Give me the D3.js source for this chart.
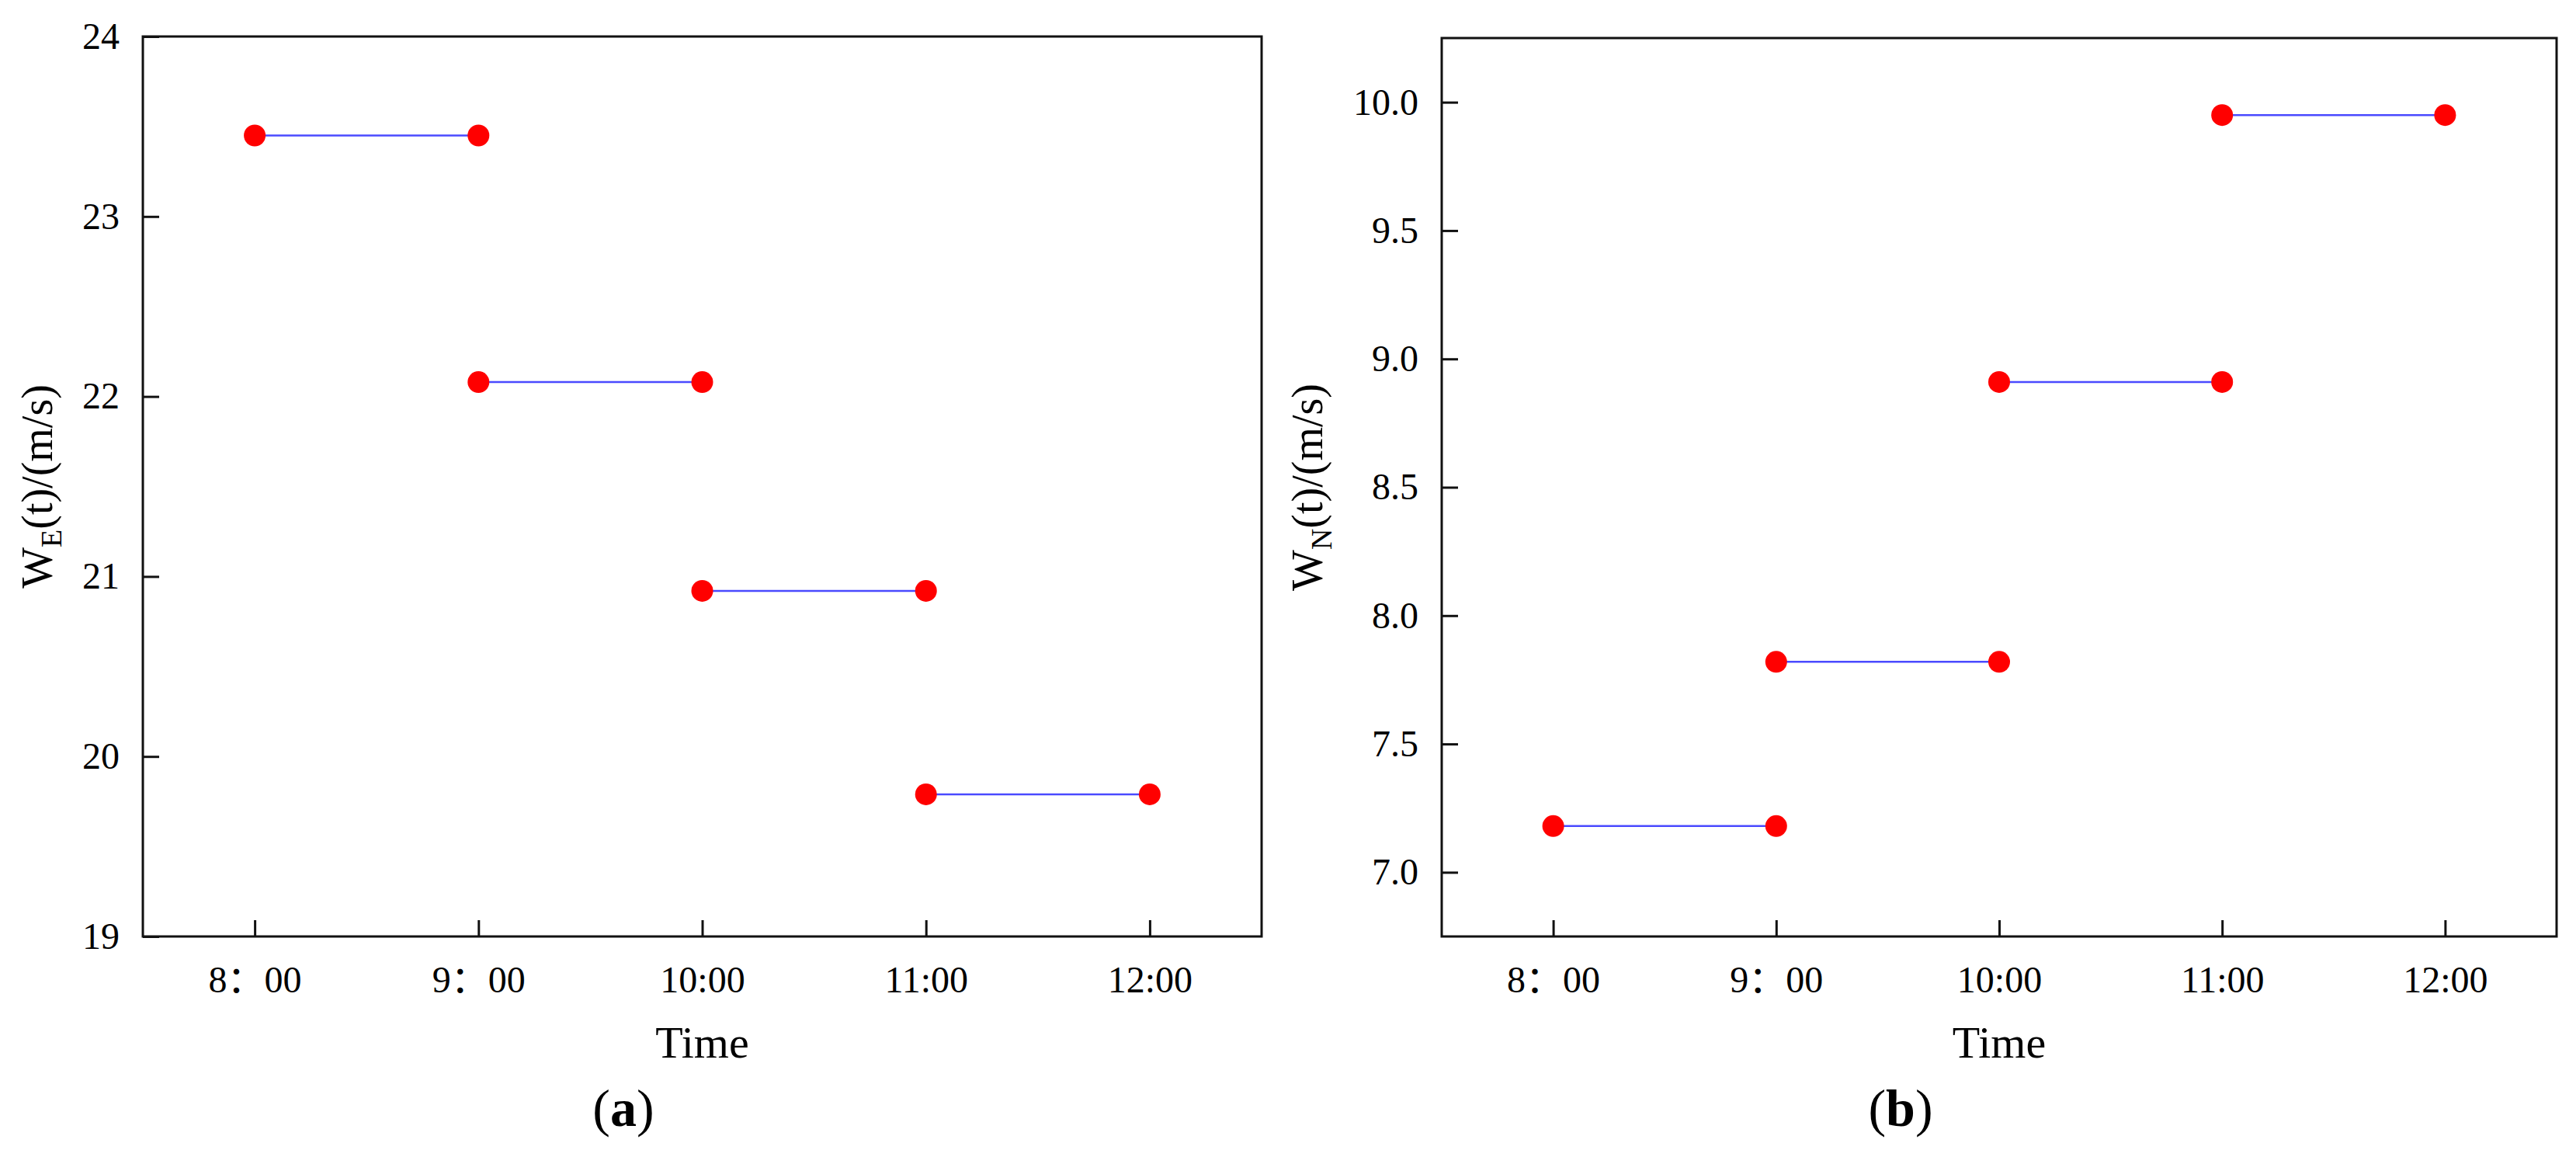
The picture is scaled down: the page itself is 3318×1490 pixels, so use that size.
<!DOCTYPE html>
<html>
<head>
<meta charset="utf-8">
<script src="https://cdn.jsdelivr.net/npm/d3@7"></script>
<style>
  body { margin: 0; background: #fff; }
  svg text { font-family: "Liberation Serif", "Noto Sans CJK SC"; fill: #000; }
</style>
</head>
<body>
<div id="chart"></div>
<script>
// hours on the x axis
const hours = [8, 9, 10, 11, 12];
const hourLabels = ['8：00', '9：00', '10:00', '11:00', '12:00'];

// each step starts at one hour and ends at the next
const stepStarts = [8, 9, 10, 11];
const stepEnds = [9, 10, 11, 12];

// wind speed per hour (m/s)
const eastValues = [23.45, 22.08, 20.92, 19.79];
const northValues = [7.18, 7.82, 8.91, 9.95];

const eastTicks = [19, 20, 21, 22, 23, 24];
const northTicks = [7.0, 7.5, 8.0, 8.5, 9.0, 9.5, 10.0];

/**
 * One step plot panel with a boxed frame
 */
class StepPanel {
  constructor(svg, config) {
    this.svg = svg;
    this.config = config;
    this.tickSize = 21;
  }

  draw(values, yTicks, yDomain, yFormat) {
    const c = this.config;
    const g = this.svg.append('g');

    const xscale = d3.scaleLinear()
      .domain([7.5, 12.5])
      .range([c.left, c.right]);

    const yscale = d3.scaleLinear()
      .domain(yDomain)
      .range([c.bottom, c.top]);

    // bottom axis, ticks point inward
    const bottomAxis = d3.axisBottom(xscale)
      .tickValues(hours)
      .tickFormat((d, i) => hourLabels[i])
      .tickSizeInner(-this.tickSize)
      .tickSizeOuter(0)
      .tickPadding(38);
    const xaxis = g.append('g')
      .attr('transform', `translate(0, ${c.bottom})`)
      .call(bottomAxis);

    const leftAxis = d3.axisLeft(yscale)
      .tickValues(yTicks)
      .tickFormat(yFormat)
      .tickSizeInner(-this.tickSize)
      .tickSizeOuter(0)
      .tickPadding(30);
    const yaxis = g.append('g')
      .attr('transform', `translate(${c.left}, 0)`)
      .call(leftAxis);

    [xaxis, yaxis].forEach((ax) => {
      ax.attr('font-family', null);
      ax.select('.domain').remove();
      ax.selectAll('.tick line').attr('stroke', '#111').attr('stroke-width', 3);
      ax.selectAll('.tick text')
        .attr('font-size', 48)
        .style('font-family', '"Liberation Serif", "Noto Sans CJK SC"');
    });

    // frame
    g.append('rect')
      .attr('x', c.left)
      .attr('y', c.top)
      .attr('width', c.right - c.left)
      .attr('height', c.bottom - c.top)
      .attr('fill', 'none')
      .attr('stroke', '#111')
      .attr('stroke-width', 3);

    const steps = values.map((v, i) => ({ x0: stepStarts[i], x1: stepEnds[i], v: v }));

    g.selectAll('.step')
      .data(steps)
      .enter()
      .append('line')
      .attr('class', 'step')
      .attr('x1', (d) => xscale(d.x0))
      .attr('x2', (d) => xscale(d.x1))
      .attr('y1', (d) => yscale(d.v))
      .attr('y2', (d) => yscale(d.v))
      .attr('stroke', '#4a4aff')
      .attr('stroke-width', 2.5);

    const points = [];
    steps.forEach((d) => {
      points.push({ x: d.x0, v: d.v });
      points.push({ x: d.x1, v: d.v });
    });

    g.selectAll('.dot')
      .data(points)
      .enter()
      .append('circle')
      .attr('class', 'dot')
      .attr('cx', (d) => xscale(d.x))
      .attr('cy', (d) => yscale(d.v))
      .attr('r', 14)
      .attr('fill', '#ff0000');

    // axis titles
    const midX = (c.left + c.right) / 2;
    const midY = (c.top + c.bottom) / 2;

    g.append('text')
      .attr('x', midX)
      .attr('y', 1362)
      .attr('text-anchor', 'middle')
      .attr('font-size', 58)
      .text('Time');

    const ylab = g.append('text')
      .attr('transform', `translate(${c.labelX}, ${midY}) rotate(-90)`)
      .attr('text-anchor', 'middle')
      .attr('font-size', 56);
    ylab.append('tspan').text('W');
    ylab.append('tspan').attr('font-size', 38).attr('dy', 12).text(c.sub);
    ylab.append('tspan').attr('dy', -12).text('(t)/(m/s)');

    // panel caption, bold letter only
    const cap = g.append('text')
      .attr('x', c.captionX)
      .attr('y', 1450)
      .attr('text-anchor', 'middle')
      .attr('font-size', 68);
    cap.append('tspan').text('(');
    cap.append('tspan').attr('font-weight', 'bold').text(c.letter);
    cap.append('tspan').text(')');
  }
}

const svg = d3.select('#chart')
  .append('svg')
  .attr('width', 3318)
  .attr('height', 1490);

new StepPanel(svg, {
  left: 184, right: 1625, top: 47, bottom: 1206,
  labelX: 67, sub: 'E', captionX: 803, letter: 'a'
}).draw(eastValues, eastTicks, [19, 24], d3.format('d'));

new StepPanel(svg, {
  left: 1857, right: 3293, top: 49, bottom: 1206,
  labelX: 1703, sub: 'N', captionX: 2448, letter: 'b'
}).draw(northValues, northTicks, [6.75, 10.25], d3.format('.1f'));
</script>
</body>
</html>
